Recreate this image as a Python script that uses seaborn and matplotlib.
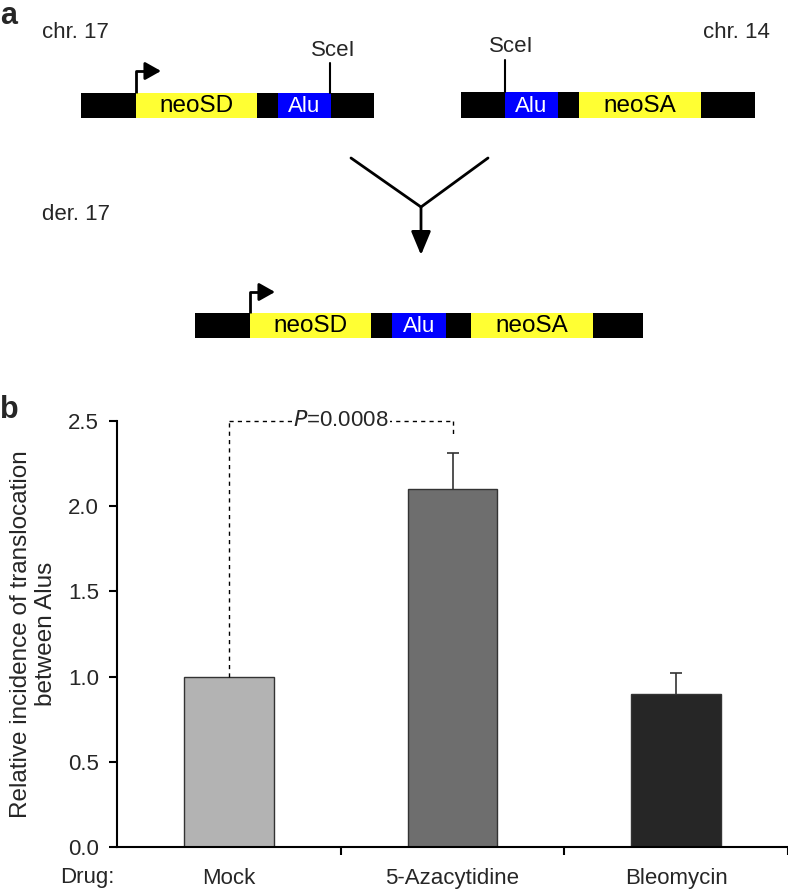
import matplotlib
matplotlib.use("Agg")
import matplotlib.pyplot as plt
import seaborn as sns
import numpy as np
import pandas as pd

# chart data (panel b)
drugs = ["Mock", "5-Azacytidine", "Bleomycin"]
incidence = [1.0, 2.10, 0.90]
sem = [0.0, 0.21, 0.12]
bar_colors = ["#b3b3b3", "#6e6e6e", "#262626"]
p_text = "=0.0008"

# schematic (panel a), pixel layout: (x0, x1, colour, label)
chr17 = [(81, 136, "black", ""), (136, 257, "#ffff33", "neoSD"), (257, 278, "black", ""),
         (278, 331, "#0000ff", "Alu"), (331, 374, "black", "")]
chr14 = [(461, 505, "black", ""), (505, 558, "#0000ff", "Alu"), (558, 579, "black", ""),
         (579, 701, "#ffff33", "neoSA"), (701, 755, "black", "")]
der17 = [(195, 250, "black", ""), (250, 371, "#ffff33", "neoSD"), (371, 392, "black", ""),
         (392, 446, "#0000ff", "Alu"), (446, 471, "black", ""), (471, 593, "#ffff33", "neoSA"),
         (593, 643, "black", "")]

sns.set_theme(style="ticks")
plt.rcParams["font.family"] = ["Liberation Sans", "DejaVu Sans"]

fig = plt.figure(figsize=(7.88, 8.90), dpi=100)

# --- panel a: drawing in pixel coords
dax = fig.add_axes([0, 0, 1, 1])
dax.set_xlim(0, 788)
dax.set_ylim(890, 0)
dax.axis("off")


def draw_chrom(segs, y0, y1):
    for x0, x1, col, lab in segs:
        dax.add_patch(plt.Rectangle((x0, y0), x1 - x0, y1 - y0, color=col, lw=0))
        if lab:
            tc = "white" if col == "#0000ff" else "black"
            fs = 16 if lab == "Alu" else 17.5
            dax.text((x0 + x1) / 2, (y0 + y1) / 2 + 1, lab, ha="center", va="center",
                     fontsize=fs, color=tc)


def promoter(x, ytop, ybar):
    dax.plot([x, x, x + 14], [ybar, ytop, ytop], color="black", lw=2, solid_capstyle="butt")
    dax.annotate("", xy=(x + 25, ytop), xytext=(x + 10, ytop),
                 arrowprops=dict(arrowstyle="-|>,head_width=0.45,head_length=0.8",
                                 color="black", lw=2, shrinkA=0, shrinkB=0))


draw_chrom(chr17, 93, 118)
draw_chrom(chr14, 92, 118)
draw_chrom(der17, 313, 338)
promoter(136, 71, 93)
promoter(250, 292, 313)

dax.plot([330, 330], [93, 63], color="black", lw=1.5)
dax.text(333, 50, "SceI", ha="center", va="center", fontsize=16)
dax.plot([505, 505], [92, 60], color="black", lw=1.5)
dax.text(511, 47, "SceI", ha="center", va="center", fontsize=16)

dax.text(42, 32, "chr. 17", ha="left", va="center", fontsize=16)
dax.text(770, 32, "chr. 14", ha="right", va="center", fontsize=16)
dax.text(42, 215, "der. 17", ha="left", va="center", fontsize=16)

dax.plot([351, 421, 488], [158, 207, 158], color="black", lw=2)
dax.annotate("", xy=(421, 255), xytext=(421, 207),
             arrowprops=dict(arrowstyle="-|>,head_width=0.5,head_length=1.2",
                             color="black", lw=2, shrinkA=0, shrinkB=0))

dax.text(0, 16, "a", ha="left", va="center", fontsize=22, fontweight="bold")
dax.text(0, 410, "b", ha="left", va="center", fontsize=22, fontweight="bold")

# --- panel b: bar chart
ax = fig.add_axes([117 / 788, 1 - 847 / 890, 1 - 117 / 788, (847 - 421) / 890])
df = pd.DataFrame({"drug": drugs, "incidence": incidence})
sns.barplot(data=df, x="drug", y="incidence", hue="drug", palette=bar_colors,
            width=0.4, edgecolor="#333333", linewidth=1, legend=False, ax=ax)

# upper error bars only, skip the ones with no error
xpos = np.arange(len(drugs))
err = np.array(sem)
has_err = err > 0
_, caps, _ = ax.errorbar(xpos[has_err], np.array(incidence)[has_err],
                         yerr=[np.zeros(has_err.sum()), err[has_err]], fmt="none",
                         ecolor="#333333", elinewidth=1.2, capsize=4, capthick=1.2)
caps[0].set_visible(False)

yt = [0, 0.5, 1.0, 1.5, 2.0, 2.5]
ax.set_xlim(-0.5, 2.5)
ax.set_ylim(0, 2.5)
ax.set_yticks(yt)
ax.set_yticklabels([f"{v:.1f}" for v in yt], fontsize=16)
ax.set_xticks([0.5, 1.5, 2.5])
ax.set_xticklabels([])
ax.set_xticks(xpos, minor=True)
ax.set_xticklabels(drugs, minor=True, fontsize=16)
ax.tick_params(axis="x", which="minor", length=0, pad=15)
ax.tick_params(axis="both", which="major", length=6, width=1.5, color="black", pad=7)
ax.set_xlabel("")
ax.set_ylabel("Relative incidence of translocation\nbetween Alus", fontsize=17.5,
              labelpad=8, linespacing=1.15, multialignment="center")
for s in ["left", "bottom"]:
    ax.spines[s].set_linewidth(1.5)
    ax.spines[s].set_color("black")
sns.despine(ax=ax)
ax.annotate("Drug:", xy=(0, 0), xycoords="axes fraction", xytext=(-2, -31),
            textcoords="offset pixels", ha="right", va="center", fontsize=16)

# significance bracket
top = 2.5
dash = (0, (3, 3))
ax.plot([0, 0], [incidence[0], top], ls=dash, color="black", lw=1, clip_on=False)
ax.plot([0, 1], [top, top], ls=dash, color="black", lw=1, clip_on=False)
ax.plot([1, 1], [top, 2.41], ls=dash, color="black", lw=1, clip_on=False)
ax.text(0.5, top, r"$\it{P}$" + p_text, ha="center", va="center", fontsize=16,
        bbox=dict(facecolor="white", edgecolor="none", pad=1))

fig.savefig("out.png", dpi=100)
